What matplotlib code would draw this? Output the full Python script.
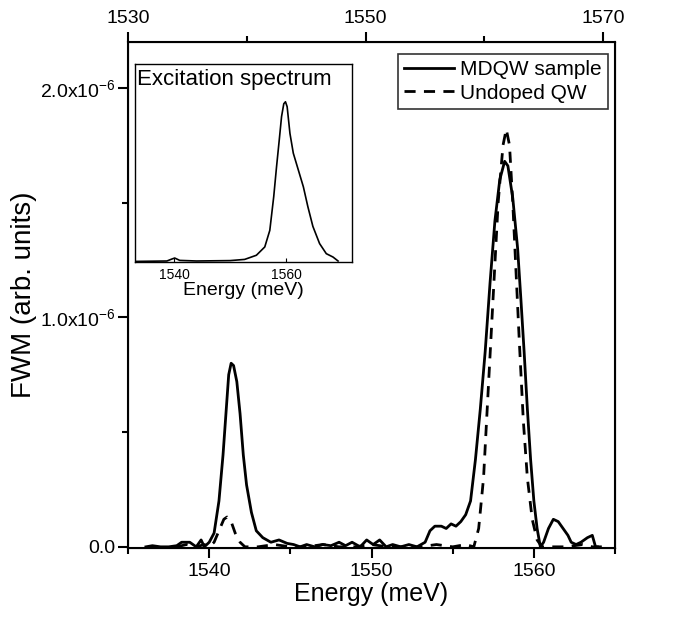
import numpy as np
import matplotlib
matplotlib.use('Agg')
from matplotlib import pyplot as plt
from matplotlib.ticker import MultipleLocator, FixedLocator

plt.rcParams['font.family'] = ['Liberation Sans', 'DejaVu Sans']
plt.rcParams['mathtext.fontset'] = 'custom'
plt.rcParams['mathtext.rm'] = 'Liberation Sans'
plt.rcParams['mathtext.it'] = 'Liberation Sans:italic'

# MDQW sample (solid), energy in meV, FWM in units of 1e-6
mdqw_e = [1536.1, 1536.5, 1537.0, 1537.5, 1538.0, 1538.3, 1538.8, 1539.2, 1539.5, 1539.7,
          1540.0, 1540.3, 1540.6, 1540.85, 1541.05, 1541.2, 1541.35, 1541.5, 1541.7, 1541.9,
          1542.1, 1542.3, 1542.6, 1542.9, 1543.3, 1543.8, 1544.3, 1544.8, 1545.2, 1545.6,
          1546.0, 1546.5, 1547.0, 1547.5, 1548.0, 1548.4, 1548.8, 1549.3, 1549.7, 1550.1,
          1550.5, 1550.9, 1551.3, 1551.8, 1552.3, 1552.8, 1553.3, 1553.6, 1553.9, 1554.3,
          1554.6, 1554.9, 1555.2, 1555.5, 1555.8, 1556.1, 1556.4, 1556.7, 1557.0, 1557.3,
          1557.6, 1557.9, 1558.2, 1558.4, 1558.7, 1559.0, 1559.2, 1559.4, 1559.6, 1559.8,
          1560.0, 1560.2, 1560.4, 1560.6, 1560.9, 1561.2, 1561.5, 1561.8, 1562.1, 1562.3,
          1562.6, 1562.9, 1563.3, 1563.6, 1563.8, 1564.1]
mdqw_v = [0.0, 0.005, 0.0, 0.0, 0.005, 0.02, 0.02, 0.0, 0.03, 0.0,
          0.02, 0.06, 0.2, 0.4, 0.6, 0.75, 0.80, 0.79, 0.72, 0.58,
          0.4, 0.27, 0.15, 0.07, 0.04, 0.02, 0.03, 0.015, 0.01, 0.0,
          0.01, 0.0, 0.01, 0.005, 0.02, 0.005, 0.02, 0.0, 0.03, 0.01,
          0.03, 0.0, 0.01, 0.0, 0.01, 0.0, 0.02, 0.07, 0.09, 0.09,
          0.08, 0.1, 0.09, 0.11, 0.14, 0.2, 0.38, 0.6, 0.85, 1.15,
          1.42, 1.6, 1.68, 1.66, 1.52, 1.3, 1.08, 0.85, 0.6, 0.38,
          0.2, 0.08, 0.0, 0.02, 0.08, 0.12, 0.11, 0.08, 0.05, 0.02,
          0.01, 0.02, 0.04, 0.05, 0.0, 0.0]

# Undoped QW (dashed)
qw_e = [1538.0, 1538.6, 1539.2, 1539.7, 1540.0, 1540.3, 1540.6, 1540.9, 1541.1, 1541.35,
        1541.6, 1541.9, 1542.2, 1543.0, 1544.0, 1545.0, 1546.0, 1547.0, 1548.0, 1549.0,
        1550.0, 1551.0, 1552.0, 1553.0, 1554.0, 1555.0, 1555.8, 1556.3, 1556.6, 1556.9,
        1557.2, 1557.5, 1557.8, 1558.1, 1558.3, 1558.5, 1558.7, 1558.9, 1559.1, 1559.35,
        1559.6, 1559.9, 1560.2, 1560.5, 1561.0, 1562.0, 1563.0, 1563.6, 1564.0]
qw_v = [0.0, 0.01, 0.0, 0.01, 0.0, 0.02, 0.07, 0.12, 0.13, 0.11,
        0.06, 0.02, 0.0, 0.0, 0.01, 0.0, 0.0, 0.01, 0.0, 0.0,
        0.01, 0.0, 0.0, 0.0, 0.01, 0.0, 0.01, 0.0, 0.08, 0.3,
        0.7, 1.1, 1.5, 1.75, 1.82, 1.75, 1.5, 1.2, 0.9, 0.55,
        0.3, 0.12, 0.03, 0.0, 0.0, 0.0, 0.01, 0.0, 0.0]

# inset: excitation spectrum (normalised)
exc_e = [1533.3, 1538.7, 1539.6, 1540.1, 1541.0, 1544.0, 1550.0, 1552.6, 1554.7, 1556.2,
         1557.1, 1557.8, 1558.3, 1558.8, 1559.2, 1559.6, 1559.9, 1560.2, 1560.7, 1561.3,
         1562.2, 1563.1, 1563.9, 1564.8, 1566.0, 1567.2, 1568.4, 1569.3]
exc_v = [0.003, 0.005, 0.015, 0.02, 0.008, 0.005, 0.007, 0.013, 0.034, 0.076,
         0.16, 0.33, 0.48, 0.62, 0.735, 0.80, 0.81, 0.785, 0.65, 0.55,
         0.465, 0.38, 0.28, 0.18, 0.093, 0.042, 0.025, 0.005]

fig = plt.figure(figsize=(6.74, 6.22), dpi=100)
ax = fig.add_axes([0.19, 0.119, 0.7225, 0.8135])
ax.plot(mdqw_e, np.array(mdqw_v)*1e-6, '-k', lw=2.0, label='MDQW sample')
ax.plot(qw_e, np.array(qw_v)*1e-6, '--k', lw=2.0, dashes=(4, 3), label='Undoped QW')
ax.set_xlim(1535, 1565); ax.set_ylim(-0.005e-6, 2.2e-6)
ax.xaxis.set_major_locator(MultipleLocator(10)); ax.xaxis.set_minor_locator(MultipleLocator(5))
ax.yaxis.set_major_locator(FixedLocator([0, 1e-6, 2e-6]))
ax.yaxis.set_minor_locator(FixedLocator([0.5e-6, 1.5e-6]))
ax.set_yticklabels(['0.0', '1.0x10$^{-6}$', '2.0x10$^{-6}$'])
ax.tick_params(which='both', direction='out', width=1.5, labelsize=14, right=False, top=False)
ax.tick_params(axis='y', pad=2)
ax.tick_params(which='major', length=7); ax.tick_params(which='minor', length=4)
for s in ax.spines.values(): s.set_linewidth(1.5)
ax.set_xlabel('Energy (meV)', fontsize=18, labelpad=2)
ax.set_ylabel('FWM (arb. units)', fontsize=20, labelpad=2)
leg = ax.legend(loc='upper right', bbox_to_anchor=(0.986, 0.976), borderaxespad=0,
                fontsize=15, frameon=True, fancybox=False, edgecolor='k',
                handlelength=2.4, handletextpad=0.3, borderpad=0.3, labelspacing=0.2)
leg.get_frame().set_linewidth(1.2)

# top axis
ax2 = ax.twiny()
ax2.set_xlim(1530, 1571)
ax2.xaxis.set_major_locator(FixedLocator([1530, 1550, 1570]))
ax2.xaxis.set_minor_locator(FixedLocator([1540, 1560]))
ax2.tick_params(which='both', direction='out', width=1.5, labelsize=14)
ax2.tick_params(which='major', length=7); ax2.tick_params(which='minor', length=4)

# inset
axi = fig.add_axes([0.2003, 0.5788, 0.322, 0.318])
axi.plot(exc_e, exc_v, '-k', lw=1.2)
axi.set_xlim(1533, 1571.8); axi.set_ylim(0, 1)
axi.set_xticks([1540, 1560]); axi.set_yticks([])
axi.tick_params(direction='in', length=3, labelsize=10, pad=4)
axi.set_xlabel('Energy (meV)', fontsize=14, labelpad=0)
axi.text(0.01, 0.975, 'Excitation spectrum', transform=axi.transAxes, fontsize=16,
         ha='left', va='top')
for s in axi.spines.values(): s.set_linewidth(1.0)

plt.savefig('out.png', dpi=100)
